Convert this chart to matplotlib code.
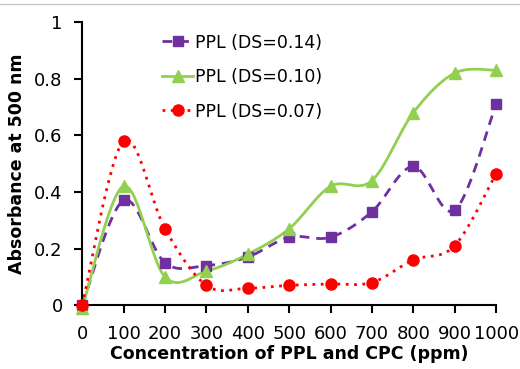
import numpy as np
import matplotlib
matplotlib.use("Agg")
import matplotlib.pyplot as plt
from matplotlib.lines import Line2D

conc = [0, 100, 200, 300, 400, 500, 600, 700, 800, 900, 1000]
ds014 = [0.0, 0.37, 0.15, 0.14, 0.17, 0.24, 0.24, 0.33, 0.49, 0.335, 0.71]
ds010 = [-0.01, 0.42, 0.10, 0.12, 0.18, 0.27, 0.42, 0.44, 0.68, 0.82, 0.83]
ds007 = [0.0, 0.58, 0.27, 0.07, 0.06, 0.07, 0.075, 0.08, 0.16, 0.21, 0.465]
labels = ["PPL (DS=0.14)", "PPL (DS=0.10)", "PPL (DS=0.07)"]


def smooth(x, y, n=30):
    x = np.asarray(x, float); y = np.asarray(y, float)
    px = np.concatenate([[x[0]], x, [x[-1]]])
    py = np.concatenate([[y[0]], y, [y[-1]]])
    xs, ys = [], []
    t = np.linspace(0, 1, n)
    for i in range(1, len(px) - 2):
        p0 = np.array([px[i], py[i]]); p3 = np.array([px[i + 1], py[i + 1]])
        p1 = p0 + (np.array([px[i + 1], py[i + 1]]) - np.array([px[i - 1], py[i - 1]])) / 6
        p2 = p3 - (np.array([px[i + 2], py[i + 2]]) - np.array([px[i], py[i]])) / 6
        b = ((1 - t) ** 3)[:, None] * p0 + (3 * (1 - t) ** 2 * t)[:, None] * p1 + \
            (3 * (1 - t) * t ** 2)[:, None] * p2 + (t ** 3)[:, None] * p3
        xs.extend(b[:, 0]); ys.extend(b[:, 1])
    return xs, ys


fig = plt.figure(figsize=(5.2, 3.69), dpi=100)
ax = fig.add_axes([0.158, 0.173, 0.796, 0.767])

purple = "#7030A0"
green = "#92D050"
red = "#FF0000"

specs = [
    (ds014, purple, (0, (3.5, 2.5)), "s", 7),
    (ds010, green, "-", "^", 8),
    (ds007, red, (0, (1, 2)), "o", 8),
]
handles = []
for (vals, col, ls, mk, ms), lab in zip(specs, labels):
    sx, sy = smooth(conc, vals)
    ax.plot(sx, sy, color=col, linestyle=ls, linewidth=2, clip_on=False)
    ax.plot(conc, vals, linestyle="none", marker=mk, markersize=ms, color=col, clip_on=False, zorder=3)
    handles.append(Line2D([], [], color=col, linestyle=ls, linewidth=2, marker=mk, markersize=ms))

ax.set_xlim(0, 1000)
ax.set_ylim(0, 1)
ax.set_xticks(conc)
ax.set_xticklabels([str(c) for c in conc])
ax.set_yticks([0, 0.2, 0.4, 0.6, 0.8, 1])
ax.set_yticklabels(["0", "0.2", "0.4", "0.6", "0.8", "1"])
for s in ["top", "right"]:
    ax.spines[s].set_visible(False)
for s in ["left", "bottom"]:
    ax.spines[s].set_linewidth(1.5)
ax.tick_params(direction="out", length=6, width=1.5, labelsize=13, pad=8)
ax.set_xlabel("Concentration of PPL and CPC (ppm)", fontsize=12.5, fontweight="bold", labelpad=2)
ax.set_ylabel("Absorbance at 500 nm", fontsize=12.5, fontweight="bold", labelpad=6)

ax.legend(handles, labels, loc="upper left", bbox_to_anchor=(0.155, 1.015), frameon=False,
          fontsize=12.5, handlelength=1.8, handletextpad=0.1, labelspacing=0.95)

fig.add_artist(Line2D([0, 1], [0.989, 0.989], color="#c8c8c8", linewidth=1, transform=fig.transFigure))

fig.savefig("out.png", dpi=100)
